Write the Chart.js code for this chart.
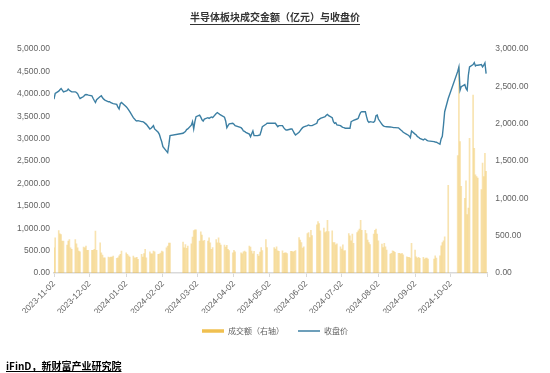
<!DOCTYPE html>
<html>
<head>
<meta charset="utf-8">
<script src="https://cdn.jsdelivr.net/npm/chart.js@4.4.1/dist/chart.umd.min.js"></script>
<style>
  html, body { margin: 0; padding: 0; background: #fff; }
  #wrap { position: relative; width: 550px; height: 373px; }
  #source {
    position: absolute; left: 6px; top: 358px;
    font: bold 10px "Noto Sans CJK SC", sans-serif; color: #000;
    text-decoration: underline;
  }
</style>
</head>
<body>
<div id="wrap">
  <canvas id="chart" width="550" height="373"></canvas>
  <div id="source">iFinD，新财富产业研究院</div>
</div>
<script>
// trading calendar (A-share), weekends + these holidays are closed
var firstDay = "2023-11-02"
var lastDay = "2024-11-01"
var holidays = ["2024-01-01", "2024-02-09", "2024-02-12", "2024-02-13", "2024-02-14", "2024-02-15", "2024-02-16",
    "2024-04-04", "2024-04-05", "2024-05-01", "2024-05-02", "2024-05-03", "2024-06-10",
    "2024-09-16", "2024-09-17", "2024-10-01", "2024-10-02", "2024-10-03", "2024-10-04", "2024-10-07"]

// x axis ticks, the last one has no label
var monthTicks = ["2023-11-02", "2023-12-02", "2024-01-02", "2024-02-02", "2024-03-02", "2024-04-02",
    "2024-05-02", "2024-06-02", "2024-07-02", "2024-08-02", "2024-09-02", "2024-10-02", "2024-11-02"]

// 收盘价 (left axis), one value per trading day, one row per month
var closePrice = [
    3881, 4007, 4060, 4090, 4118, 4080, 4044, 4070, 4104, 4080, 4060, 4044, 4044, 4030, 4000, 3940, 3896, 3940, 3970, 3985, 3980,
    3970, 3955, 3900, 3850, 3807, 3870, 3940, 3955, 3910, 3880, 3860, 3822, 3822, 3800, 3790, 3780, 3763, 3700, 3659, 3780, 3807,
    3711, 3680, 3640, 3600, 3467, 3440, 3407, 3393, 3400, 3378, 3378, 3363, 3340, 3318, 3215, 3230, 3260, 3289, 3215, 3141, 3096, 3007,
    2930, 2822, 2720, 2689, 2859, 3067, 3120, 3140, 3156, 3200, 3215, 3300, 3378, 3215, 3380,
    3489, 3526, 3480, 3420, 3393, 3437, 3467, 3452, 3467, 3482, 3467, 3560, 3578, 3560, 3541, 3526, 3480, 3393, 3244, 3289, 3330,
    3341, 3320, 3289, 3244, 3215, 3170, 3160, 3141, 3100, 3044, 3110, 3170, 3067, 3067, 3075, 3081, 3170, 3267, 3320, 3341,
    3341, 3341, 3304, 3267, 3289, 3289, 3244, 3215, 3193, 3193, 3215, 3215, 3170, 3119, 3081, 3141, 3180, 3215, 3244, 3260,
    3289, 3304, 3289, 3289, 3289, 3341, 3415, 3430, 3452, 3480, 3489, 3520, 3541, 3511, 3467, 3378, 3341, 3356, 3304,
    3290, 3267, 3250, 3244, 3230, 3230, 3230, 3378, 3393, 3407, 3437, 3452, 3526, 3585, 3600, 3600, 3489, 3393, 3363, 3378, 3363, 3393, 3511,
    3526, 3437, 3318, 3290, 3274, 3267, 3265, 3259, 3255, 3250, 3244, 3244, 3240, 3215, 3190, 3170, 3141, 3096, 3081, 3060, 3022, 3170,
    3100, 3081, 3044, 3030, 3007, 2970, 2993, 2985, 2960, 2948, 2933, 2925, 2919, 2874, 2993, 3050, 3304, 3600, 3896,
    4500, 4600, 4081, 4160, 4207, 4119, 4081, 4415, 4600, 4652, 4696, 4622, 4637, 4637, 4652, 4600, 4637, 4690,
    4452
]

// 成交额 (亿元, right axis)
var turnover = [
    338, 471, 569, 524, 515, 427, 427, 373, 427, 449, 338, 316, 449, 391, 338, 293, 284, 347, 338, 360, 302,
    302, 302, 302, 316, 560, 302, 404, 271, 240, 204, 204, 213, 205, 213, 213, 227, 196, 204, 230, 249, 293,
    271, 249, 230, 213, 227, 204, 204, 210, 182, 249, 213, 260, 316, 204, 284, 258, 258, 293, 284, 249, 255, 267,
    293, 284, 338, 360, 400, 400, 413, 338, 382, 329, 360, 391, 480, 569, 578,
    578, 427, 551, 507, 427, 436, 427, 471, 404, 316, 340, 449, 404, 471, 400, 373, 373, 347, 370, 316, 300,
    271, 302, 284, 271, 258, 284, 293, 280, 360, 347, 293, 258, 289, 249, 227, 280, 342, 300, 449, 342,
    342, 320, 351, 298, 290, 298, 262, 271, 271, 260, 289, 289, 280, 289, 300, 476, 440, 409, 333, 350,
    529, 542, 476, 573, 500, 644, 689, 662, 564, 600, 542, 556, 707, 556, 564, 409, 409, 378, 390,
    351, 320, 378, 298, 300, 529, 498, 431, 520, 396, 542, 564, 587, 707, 573, 573, 529, 440, 409, 380, 520, 573, 587,
    520, 431, 387, 342, 396, 351, 307, 253, 262, 298, 289, 276, 262, 262, 253, 262, 244, 218, 209, 209, 200, 396,
    307, 218, 200, 209, 195, 209, 187, 200, 200, 187, 187, 231, 200, 230, 364, 409, 431, 484, 1173,
    1573, 2760, 1760, 1160, 1000, 1236, 782, 871, 1804, 2382, 1671, 1316, 1293, 1271, 1116, 1471, 1293, 1604,
    1360
]

const DAY = 86400000
const t0 = Date.parse(firstDay)
const dayOf = (s) => Math.round((Date.parse(s) - t0) / DAY)
const dateOf = (d) => new Date(t0 + d * DAY).toISOString().slice(0, 10)

let tradingDays = []
for (let d = 0; d <= dayOf(lastDay); d++) {
    let wd = new Date(t0 + d * DAY).getUTCDay()
    if (wd != 0 && wd != 6 && !holidays.includes(dateOf(d)))
        tradingDays.push(d)
}

const fmt = (v) => {
    let parts = Number(v).toFixed(2).split(".")
    return parts[0].replace(/\B(?=(\d{3})+$)/g, ",") + "." + parts[1]
}

const tickFont = { family: "'Liberation Sans', Arial, sans-serif", size: 8.5 }
const cjkFont = "'Noto Sans CJK SC', sans-serif"
const tickColor = "#636363"
const barColor = "#F0C050"
const lineColor = "#3C7FA3"
const lastTick = dayOf(monthTicks[monthTicks.length - 1])

// underline under the chart title
const titleUnderline = {
    id: "titleUnderline",
    afterDraw(chart) {
        const t = chart.titleBlock
        const ctx = chart.ctx
        ctx.save()
        ctx.font = "bold 10px " + cjkFont
        const w = ctx.measureText(chart.options.plugins.title.text).width
        const cx = (t.left + t.right) / 2
        ctx.strokeStyle = "#333333"
        ctx.lineWidth = 1
        ctx.beginPath()
        ctx.moveTo(cx - w / 2, t.top + 24.5)
        ctx.lineTo(cx + w / 2, t.top + 24.5)
        ctx.stroke()
        ctx.restore()
    }
}

new Chart(document.getElementById("chart").getContext("2d"), {
    type: "bar",
    data: {
        datasets: [
            {
                label: "成交额（右轴）",
                data: tradingDays.map((d, i) => ({ x: d, y: turnover[i] })),
                yAxisID: "y1",
                backgroundColor: "rgba(240, 192, 80, 0.45)",
                barThickness: 1,
                order: 1
            },
            {
                type: "line",
                label: "收盘价",
                data: tradingDays.map((d, i) => ({ x: d, y: closePrice[i] })),
                yAxisID: "y",
                borderColor: lineColor,
                borderWidth: 1.4,
                pointRadius: 0,
                tension: 0,
                order: 0
            }
        ]
    },
    options: {
        responsive: false,
        animation: false,
        devicePixelRatio: 1,
        events: [],
        layout: { padding: { left: 0, right: 0, top: 0, bottom: 28 } },
        plugins: {
            title: {
                display: true,
                text: "半导体板块成交金额（亿元）与收盘价",
                color: "#333333",
                font: { family: cjkFont, size: 10, weight: "bold" },
                padding: { top: 11, bottom: 26 }
            },
            legend: {
                position: "bottom",
                labels: {
                    usePointStyle: true,
                    pointStyleWidth: 22,
                    padding: 14,
                    color: tickColor,
                    font: { family: cjkFont, size: 8 },
                    generateLabels: () => [
                        { text: "成交额（右轴）", strokeStyle: barColor, fillStyle: barColor, lineWidth: 3.5, pointStyle: "line", datasetIndex: 0, fontColor: tickColor },
                        { text: "收盘价", strokeStyle: lineColor, fillStyle: lineColor, lineWidth: 1.5, pointStyle: "line", datasetIndex: 1, fontColor: tickColor }
                    ]
                }
            },
            tooltip: { enabled: false }
        },
        scales: {
            x: {
                type: "linear",
                min: 0,
                max: lastTick,
                offset: false,
                afterBuildTicks: (scale) => {
                    scale.ticks = monthTicks.map((m) => ({ value: dayOf(m) }))
                },
                afterFit: (scale) => { scale.height = 40 },
                ticks: {
                    autoSkip: false,
                    minRotation: 45,
                    maxRotation: 45,
                    padding: 2,
                    color: tickColor,
                    font: tickFont,
                    callback: (v) => v >= lastTick ? "" : dateOf(v)
                },
                grid: { offset: false, drawOnChartArea: false, drawTicks: true, tickLength: 4, color: "#d9d9d9" },
                border: { color: "#d9d9d9", width: 1.5 }
            },
            y: {
                position: "left",
                min: 0,
                max: 5000,
                afterFit: (scale) => { scale.width = 54 },
                ticks: { stepSize: 500, padding: 4, color: tickColor, font: tickFont, callback: fmt },
                grid: { display: false, drawTicks: false },
                border: { display: false }
            },
            y1: {
                position: "right",
                min: 0,
                max: 3000,
                afterFit: (scale) => { scale.width = 62.7 },
                ticks: { stepSize: 500, padding: 8, color: tickColor, font: tickFont, callback: fmt },
                grid: { display: false, drawTicks: false },
                border: { display: false }
            }
        }
    },
    plugins: [titleUnderline]
})
</script>
</body>
</html>
